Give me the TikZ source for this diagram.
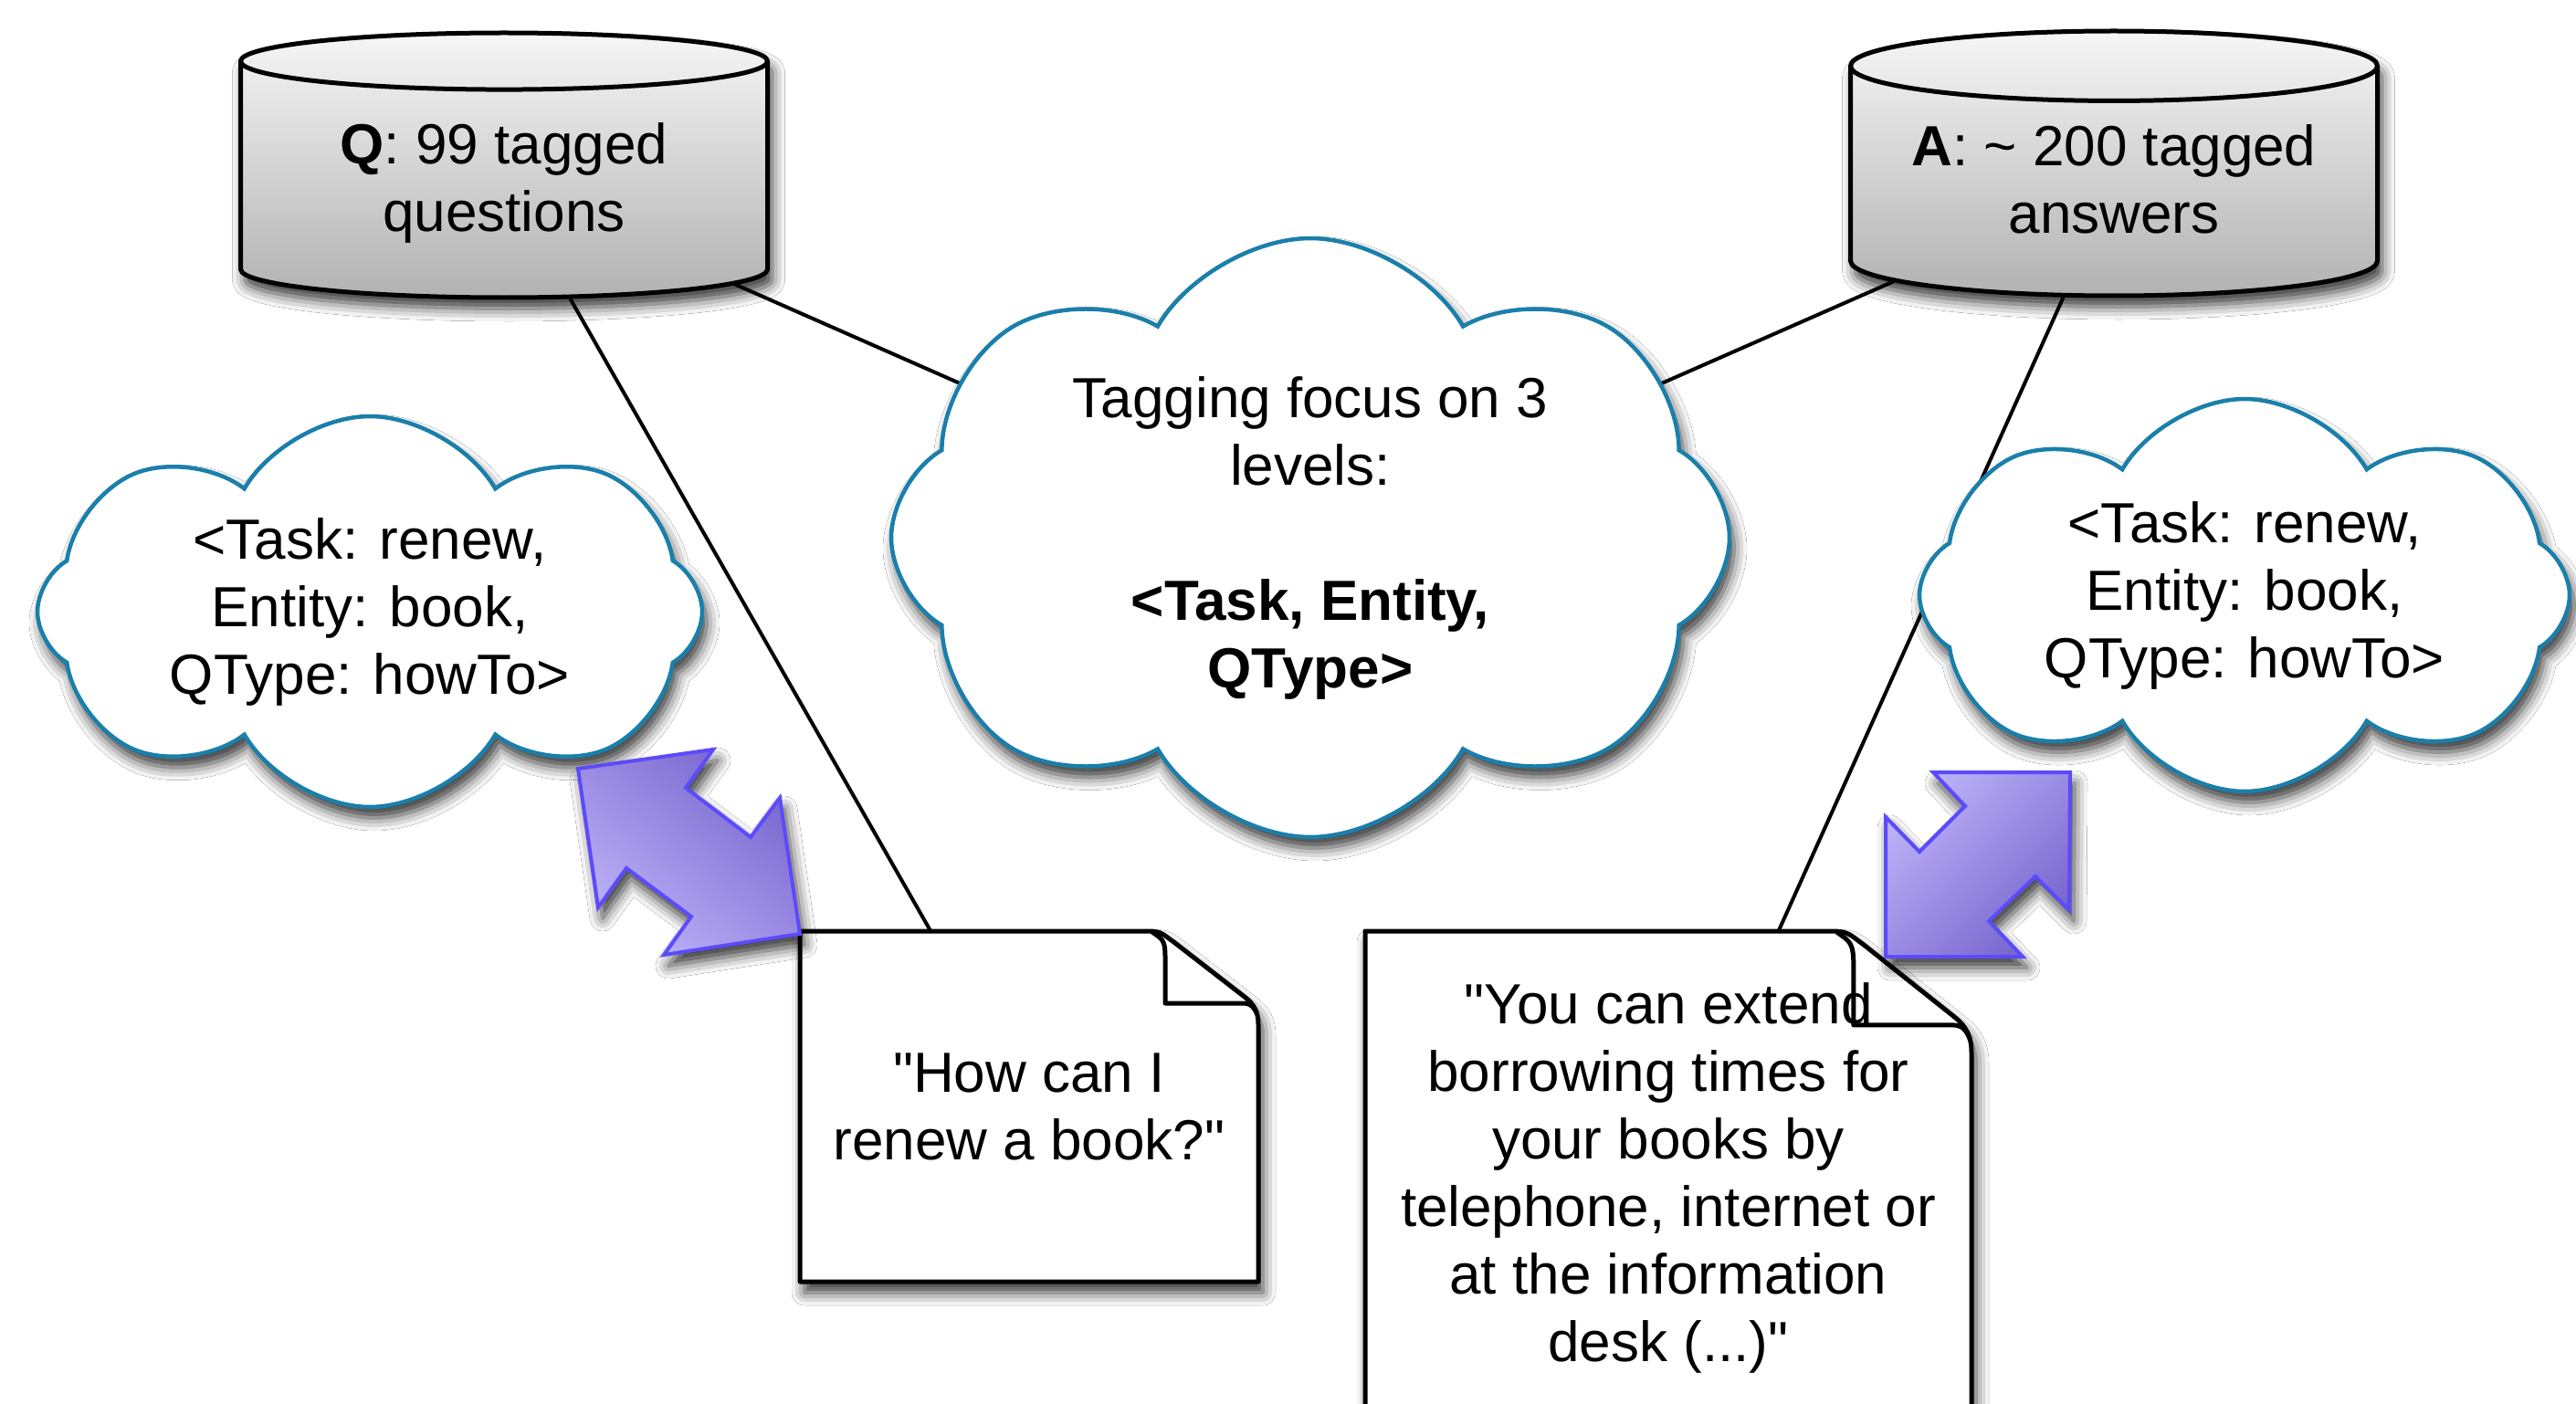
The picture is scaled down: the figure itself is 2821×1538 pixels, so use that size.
\documentclass[tikz,border=0pt]{standalone}
\usepackage{fontspec}
\setmainfont{Liberation Sans}[Ligatures=TeXOff]
\usetikzlibrary{calc,shapes.geometric,shapes.symbols,shadows.blur}

\definecolor{cloudline}{HTML}{1A7FAA}
\definecolor{arrowline}{HTML}{5B4BFA}
\definecolor{arrowlight}{HTML}{BDB2F8}
\definecolor{arrowdark}{HTML}{7766CE}
\definecolor{dbtop}{HTML}{F6F6F6}
\definecolor{dbbottom}{HTML}{B2B2B2}

\tikzset{
  softshadow/.style={blur shadow={shadow xshift=5pt, shadow yshift=-12pt, shadow blur radius=14pt, shadow opacity=80}},
  database/.style={cylinder, shape border rotate=90, aspect=0.17, draw, line width=5pt,
    minimum width=577pt, minimum height=290pt, top color=dbtop, bottom color=dbbottom,
    softshadow, align=center, anchor=shape center},
  tagcloud/.style={cloud, cloud puffs=8, cloud puff arc=120, cloud ignores aspect,
    draw=cloudline, line width=4.5pt, fill=white, softshadow, align=center},
  docpage/.style={draw, line width=5pt, fill=white, softshadow, line join=round},
  foldline/.style={draw, line width=5pt, line join=round},
  doctext/.style={rectangle, inner sep=0pt, align=center},
  resize/.style={draw=arrowline, line width=4pt, softshadow},
  link/.style={draw, line width=4pt}
}

% sheet of paper with a dog-eared corner: centre, half width, half height, fold size
\newcommand{\pagefold}[5]{%
  \coordinate (#1ne) at ($(#1)+(#2,-#3)$);
  \draw[docpage] ($(#1)+(-#2,#3)$) -- ($(#1)+(-#2,-#3)$) -- ($(#1ne)+(-#4,0)$)
    .. controls +(0.12*#4,0) and +(-0.08*#4,-0.07*#5) .. ($(#1ne)+(-0.78*#4,0.12*#5)$)
    -- ($(#1ne)+(-0.12*#4,0.78*#5)$)
    .. controls +(0.08*#4,0.08*#5) and +(0,-0.15*#5) .. ($(#1ne)+(0,1.1*#5)$)
    -- ($(#1)+(#2,#3)$) -- cycle;
  \draw[foldline] ($(#1ne)+(-0.97*#4,0.01*#5)$)
    .. controls +(0.09*#4,0.08*#5) and +(0,-0.2*#5) .. ($(#1ne)+(-0.85*#4,0.3*#5)$)
    -- ($(#1ne)+(-0.85*#4,0.85*#5)$) -- ($(#1ne)+(-0.14*#4,0.85*#5)$)
    .. controls +(0.08*#4,0) and +(-0.03*#4,-0.08*#5) .. ($(#1ne)+(-0.01*#4,0.98*#5)$);
}

\begin{document}
\begin{tikzpicture}[x=1pt, y=-1pt, every node/.style={font=\fontsize{62}{74}\selectfont}]
  \useasboundingbox (0,0) rectangle (2821,1538);
  \fill[white] (0,0) rectangle (2821,1538);

  \coordinate (qsheet) at (1127,1212);
  \coordinate (asheet) at (1827,1290);
  \coordinate (focuspos) at (1435,589);
  \pagefold{qsheet}{251}{192}{120}{93}
  \pagefold{asheet}{332}{270}{152}{121}

  \node[doctext, minimum width=502pt, minimum height=385pt] (qdoc) at (qsheet)
    {"How can I\\renew a book?"};
  \node[doctext, minimum width=665pt, minimum height=540pt] (adoc) at (asheet)
    {"You can extend\\borrowing times for\\your books by\\telephone, internet or\\at the information\\desk (...)"};

  \node[database] (qbase) at (552,181) {\textbf{Q}: 99 tagged\\questions};
  \node[database] (abase) at (2315,179) {\textbf{A}: \textasciitilde{} 200 tagged\\answers\vphantom{q}};

  \draw[link] (qbase) -- (qdoc);
  \draw[link] (qbase) -- (focuspos);
  \draw[link] (abase) -- (focuspos);
  \draw[link] (abase) -- (adoc);

  \node[tagcloud, minimum width=918pt, minimum height=656pt] (focus) at (focuspos)
    {Tagging focus on 3\\levels:\\[74pt]\textbf{<Task, Entity,}\\\textbf{QType>}};
  \node[tagcloud, minimum width=728pt, minimum height=428pt] (qtags) at (405,670)
    {<Task: renew,\\Entity: book,\\QType: howTo>};
  \node[tagcloud, minimum width=712pt, minimum height=430pt] (atags) at (2458,652)
    {<Task: renew,\\Entity: book,\\QType: howTo>};

  \path[resize, top color=arrowdark, bottom color=arrowlight, shading angle=-40]
    (633,842) -- (781,821) -- (751,863) -- (822,917) -- (854,874) -- (876,1023)
    -- (727,1046) -- (757,1004) -- (686,951) -- (655,994) -- cycle;
  \path[resize, top color=arrowlight, bottom color=arrowdark, shading angle=45]
    (2117,846) -- (2267,846) -- (2266,997) -- (2229,960) -- (2178,1009) -- (2215,1048)
    -- (2065,1048) -- (2065,895) -- (2102,933) -- (2152,883) -- cycle;
\end{tikzpicture}
\end{document}
